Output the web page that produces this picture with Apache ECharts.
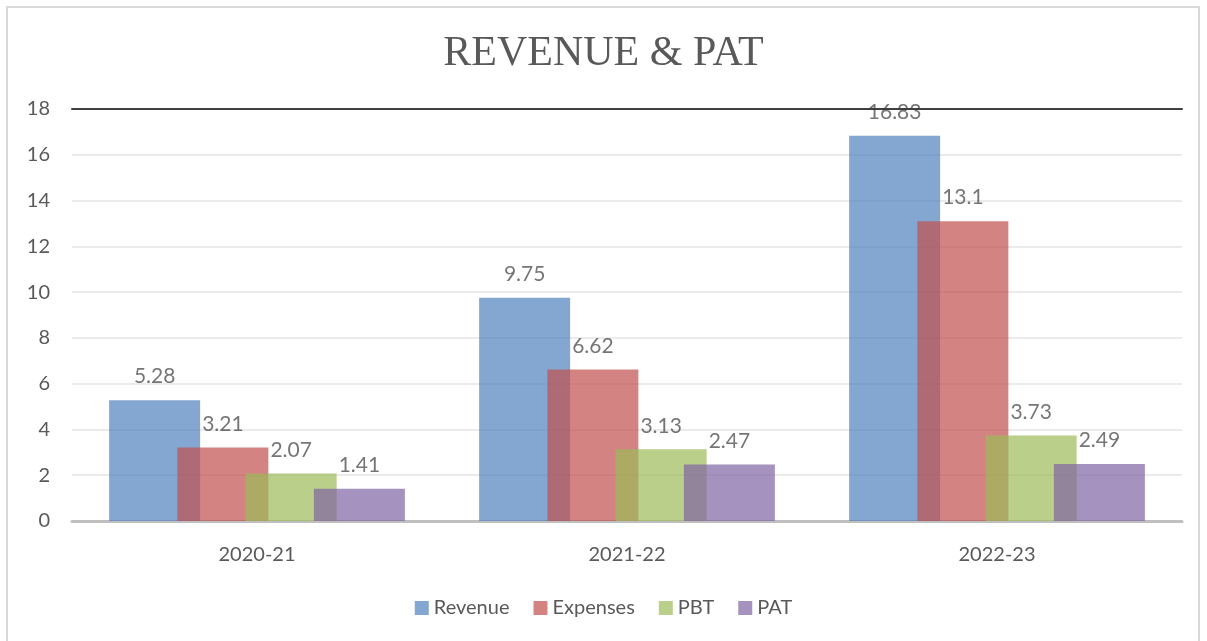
<!DOCTYPE html>
<html>
<head>
<meta charset="utf-8">
<script src="https://cdn.jsdelivr.net/npm/echarts@6/dist/echarts.min.js"></script>
<style>
  html, body { margin: 0; padding: 0; background: #fff; }
  #container { width: 1207px; height: 641px; }
  #frame { position: absolute; left: 6px; top: 6px; width: 1194px; height: 650px; border: 2px solid #d9d9d9; box-sizing: border-box; pointer-events: none; }
</style>
</head>
<body>
<div id="container"></div>
<div id="frame"></div>
<script>
let years = ['2020-21', '2021-22', '2022-23'];
let revenue = [5.28, 9.75, 16.83];
let expenses = [3.21, 6.62, 13.1];
let pbt = [2.07, 3.13, 3.73];
let pat = [1.41, 2.47, 2.49];

let seriesNames = ['Revenue', 'Expenses', 'PBT', 'PAT'];
let seriesData = [revenue, expenses, pbt, pat];
let seriesColors = ['#4F81BD', '#C0504D', '#9BBB59', '#8064A2'];

var dom = document.getElementById('container');
var myChart = echarts.init(dom, null, { renderer: 'canvas' });

let fontName = 'Lato, "Open Sans", sans-serif';

var option = {
    animation: false,
    title: {
        text: 'REVENUE & PAT',
        left: 'center',
        top: 28,
        textStyle: {
            fontFamily: '"Liberation Serif", "DejaVu Serif", serif',
            fontSize: 42,
            fontWeight: 'normal',
            color: '#595959'
        }
    },
    legend: {
        data: seriesNames,
        bottom: 18,
        left: 'center',
        itemWidth: 14,
        itemHeight: 14,
        itemGap: 24,
        icon: 'rect',
        textStyle: { fontFamily: fontName, fontSize: 20, color: '#595959' }
    },
    grid: { left: 72, right: 25, top: 109, bottom: 120 },
    xAxis: [
        {
            type: 'category',
            data: years,
            axisTick: { show: false },
            axisLine: { lineStyle: { color: '#BFBFBF', width: 3 } },
            axisLabel: { fontFamily: fontName, fontSize: 20, color: '#595959', margin: 24 }
        },
        {
            type: 'category',
            data: years,
            position: 'top',
            axisTick: { show: false },
            axisLabel: { show: false },
            axisLine: { lineStyle: { color: '#404040', width: 2 } }
        }
    ],
    yAxis: {
        type: 'value',
        min: 0,
        max: 18,
        interval: 2,
        axisLine: { show: false },
        axisTick: { show: false },
        axisLabel: { fontFamily: fontName, fontSize: 20, color: '#595959', margin: 22 },
        splitLine: { lineStyle: { color: '#EBEBEB', width: 2 } }
    },
    series: seriesNames.map(function (name, i) {
        return {
            name: name,
            type: 'bar',
            data: seriesData[i],
            barWidth: 91,
            barGap: '-25%',
            itemStyle: { color: seriesColors[i], opacity: 0.7 },
            label: {
                show: true,
                position: 'top',
                distance: 13,
                fontFamily: fontName,
                fontSize: 21,
                color: '#3a3a3a'
            }
        };
    })
};

myChart.setOption(option);
window.addEventListener('resize', myChart.resize);
</script>
</body>
</html>
